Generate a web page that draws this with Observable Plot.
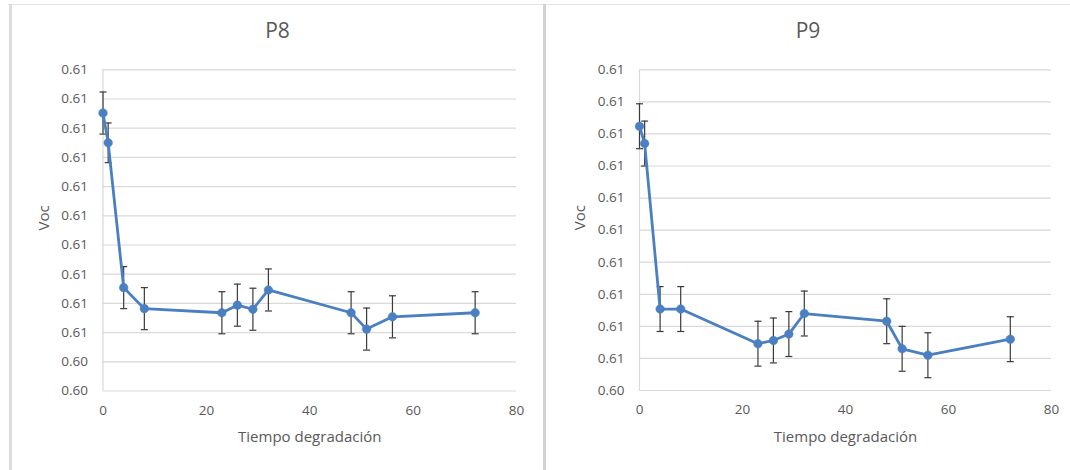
<!DOCTYPE html>
<html>
<head>
<meta charset="utf-8">
<script src="https://cdn.jsdelivr.net/npm/d3@7"></script>
<script src="https://cdn.jsdelivr.net/npm/@observablehq/plot@0.6"></script>
<style>
  html, body { margin: 0; padding: 0; background: #ffffff; }
  #root { position: relative; width: 1070px; height: 470px; overflow: hidden; background: #fff; font-family: "Open Sans", sans-serif; }
  .panel { position: absolute; top: 0; }
  .title { position: absolute; top: 16px; font-size: 21px; color: #595959; text-align: center; font-family: "Open Sans", sans-serif; }
  .vline { position: absolute; background: #dcdcdc; }
  .hline { position: absolute; background: #e3e3e3; }
</style>
</head>
<body>
<div id="root">
  <div class="hline" style="left:8px; top:4px; width:1062px; height:1px;"></div>
  <div class="vline" style="left:9px; top:4px; width:3px; height:466px;"></div>
  <div class="vline" style="left:543px; top:4px; width:3px; height:466px; background:#d2d2d2;"></div>
  <div class="title" style="left:12px; width:531px;">P8</div>
  <div class="title" style="left:546px; width:524px;">P9</div>
  <div id="p8" class="panel" style="left:0px;"></div>
  <div id="p9" class="panel" style="left:536px;"></div>
</div>
<script>
// ---- Data ----
const timesP8 = [0, 1, 4, 8, 23, 26, 29, 32, 48, 51, 56, 72];
const vocP8   = [0.60876, 0.60825, 0.60577, 0.60541, 0.60534, 0.60547, 0.60540, 0.60573, 0.60534, 0.60506, 0.60527, 0.60534];
const errP8   = [0.00036, 0.00034, 0.00036, 0.00036, 0.00036, 0.00036, 0.00036, 0.00036, 0.00036, 0.00036, 0.00036, 0.00036];

const timesP9 = [0, 1, 4, 8, 23, 26, 29, 32, 48, 51, 56, 72];
const vocP9   = [0.60862, 0.60835, 0.60577, 0.60577, 0.60523, 0.60528, 0.60538, 0.60570, 0.60558, 0.60515, 0.60505, 0.60530];
const errP9   = [0.00035, 0.00035, 0.00035, 0.00035, 0.00035, 0.00035, 0.00035, 0.00035, 0.00035, 0.00035, 0.00035, 0.00035];

const xTicks = [0, 20, 40, 60, 80];
const yTicksP8  = [0.6040, 0.6045, 0.6050, 0.6055, 0.6060, 0.6065, 0.6070, 0.6075, 0.6080, 0.6085, 0.6090, 0.6095];
const yLabelsP8 = ["0.60", "0.60", "0.61", "0.61", "0.61", "0.61", "0.61", "0.61", "0.61", "0.61", "0.61", "0.61"];
const yTicksP9  = [0.6045, 0.6050, 0.6055, 0.6060, 0.6065, 0.6070, 0.6075, 0.6080, 0.6085, 0.6090, 0.6095];
const yLabelsP9 = ["0.60", "0.61", "0.61", "0.61", "0.61", "0.61", "0.61", "0.61", "0.61", "0.61", "0.61"];

const xLabel = "Tiempo degradación";
const yLabel = "Voc";

// ---- Styling ----
const BLUE = "#4a7fc1";
const ERR = "#3a3a3a";
const GRID = "#d9d9d9";
const TEXT = "#595959";

const capSymbol = {
  draw(context, size) {
    const r = 3.5;
    context.moveTo(-r, 0);
    context.lineTo(r, 0);
  }
};

function panel(times, voc, err, yTicks, yLabels, m) {
  const data = times.map((t, i) => ({ t, v: voc[i], lo: voc[i] - err[i], hi: voc[i] + err[i] }));
  const labelMap = new Map(yTicks.map((d, i) => [d, yLabels[i]]));
  return Plot.plot({
    width: m.width,
    height: 470,
    marginLeft: m.left,
    marginRight: m.right,
    marginTop: m.top,
    marginBottom: m.bottom,
    style: { fontFamily: "'Open Sans', sans-serif", fontSize: "13.5px", color: TEXT, background: "transparent", overflow: "visible" },
    x: { domain: [0, 80], ticks: xTicks, tickFormat: d => String(d) },
    y: { domain: [yTicks[0], yTicks[yTicks.length - 1]] },
    marks: [
      Plot.gridY(yTicks, { stroke: GRID, strokeOpacity: 1, strokeWidth: 1.2 }),
      Plot.ruleX([0], { stroke: GRID, strokeWidth: 1.2 }),
      Plot.axisX(xTicks, { tickSize: 0, tickPadding: 14, fontSize: 13.5, fill: TEXT, label: null }),
      Plot.axisY(yTicks, { tickSize: 0, tickPadding: 15, fontSize: 13.5, fill: TEXT,
        tickFormat: d => labelMap.get(d), label: null }),
      Plot.text([xLabel], { frameAnchor: "bottom", dy: 51, fontSize: 15, fill: TEXT }),
      Plot.text([yLabel], { frameAnchor: "left", dx: -59, rotate: -90, fontSize: 15, fill: TEXT }),
      Plot.ruleX(data, { x: "t", y1: "lo", y2: "hi", stroke: ERR, strokeWidth: 1.2 }),
      Plot.dot(data, { x: "t", y: "lo", symbol: capSymbol, stroke: ERR, strokeWidth: 1.2 }),
      Plot.dot(data, { x: "t", y: "hi", symbol: capSymbol, stroke: ERR, strokeWidth: 1.2 }),
      Plot.line(data, { x: "t", y: "v", stroke: BLUE, strokeWidth: 2.8, curve: "linear" }),
      Plot.dot(data, { x: "t", y: "v", r: 4.3, fill: BLUE, stroke: BLUE, strokeWidth: 0.5 })
    ]
  });
}

document.getElementById("p8").appendChild(
  panel(timesP8, vocP8, errP8, yTicksP8, yLabelsP8, { width: 536, left: 102.5, right: 20, top: 69.3, bottom: 79.5 })
);
document.getElementById("p9").appendChild(
  panel(timesP9, vocP9, errP9, yTicksP9, yLabelsP9, { width: 534, left: 103, right: 19, top: 69.3, bottom: 80 })
);
</script>
</body>
</html>
